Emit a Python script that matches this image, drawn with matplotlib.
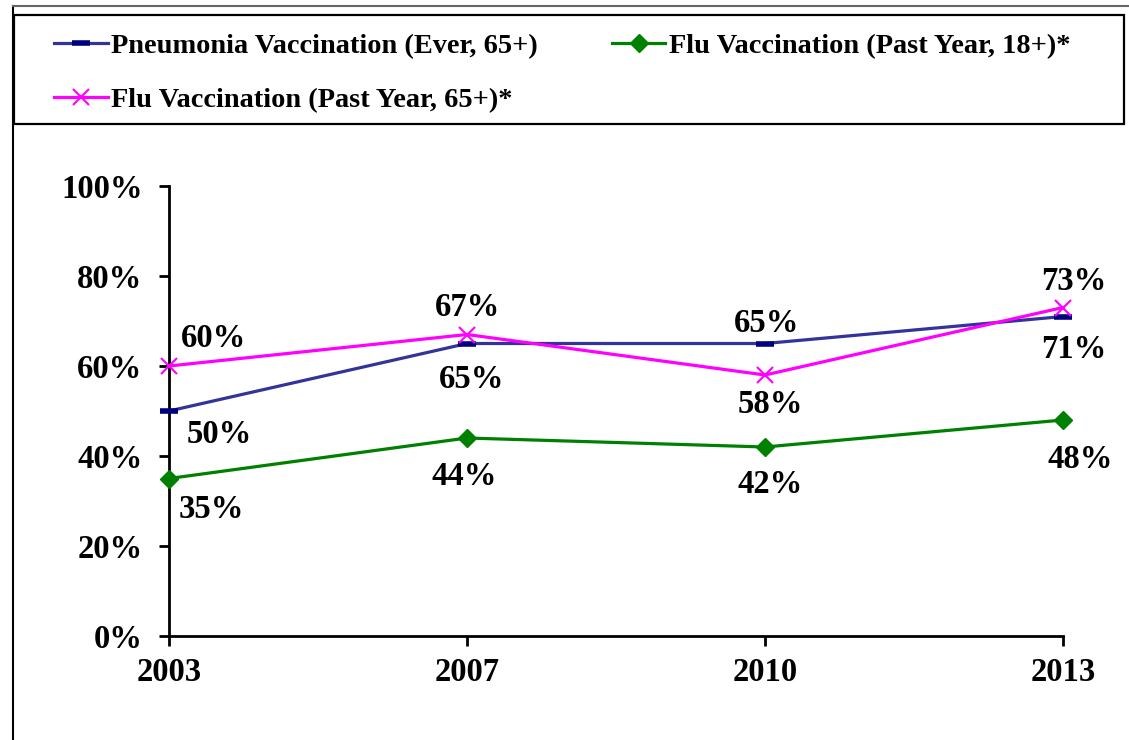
import matplotlib
matplotlib.use("Agg")
import matplotlib.pyplot as plt
from matplotlib.lines import Line2D
from matplotlib.patches import Rectangle

plt.rcParams['font.family'] = ['Liberation Serif', 'DejaVu Serif']
plt.rcParams['font.weight'] = 'bold'

years = ["2003", "2007", "2010", "2013"]
pneumonia = [50, 65, 65, 71]
flu_18 = [35, 44, 42, 48]
flu_65 = [60, 67, 58, 73]
yticks = [0, 20, 40, 60, 80, 100]

names = ["Pneumonia Vaccination (Ever, 65+)",
         "Flu Vaccination (Past Year, 18+)*",
         "Flu Vaccination (Past Year, 65+)*"]

# label offsets (pixels) relative to each point, text baseline
off_pneu = [(50, -32), (5, -45), (2, 11), (11, -41)]
off_f18 = [(42, -39), (-3, -47), (5, -46), (17, -48)]
off_f65 = [(45, 19), (0, 19), (5, -38), (11, 18)]

FS = 23.5
W, H = 1129, 740
fig = plt.figure(figsize=(W / 100, H / 100), dpi=100)
ax = fig.add_axes([169 / W, 1 - 636 / H, (1063 - 169) / W, (636 - 186) / H])

x = list(range(len(years)))
l1, = ax.plot(x, pneumonia, color="#333399", lw=2.3, marker="_", ms=13,
              mew=4, mec="#000080", clip_on=False, zorder=3)
l2, = ax.plot(x, flu_18, color="#008000", lw=2.3, marker="D", ms=9.5,
              mec="#008000", mfc="#008000", clip_on=False, zorder=3)
l3, = ax.plot(x, flu_65, color="#FF00FF", lw=2.3, marker="x", ms=11,
              mew=1.5, clip_on=False, zorder=4)

for vals, offs in [(pneumonia, off_pneu), (flu_18, off_f18), (flu_65, off_f65)]:
    for xi, v, (dx, dy) in zip(x, vals, offs):
        ax.annotate(f"{v}%", (xi, v), xytext=(dx, dy), textcoords="offset pixels",
                    ha="center", va="baseline", fontsize=FS, fontweight="bold")

ax.set_xlim(0, 3)
ax.set_ylim(0, 100)
ax.set_xticks(x)
ax.set_xticklabels(years)
ax.set_yticks(yticks)
ax.set_yticklabels([f"{t}%" for t in yticks])
for s in ["top", "right"]:
    ax.spines[s].set_visible(False)
for s in ["left", "bottom"]:
    ax.spines[s].set_linewidth(2)
ax.tick_params(axis="both", direction="out", length=7, width=2, labelsize=FS)
ax.tick_params(axis="y", pad=12)
ax.tick_params(axis="x", pad=8)
for lab in ax.get_xticklabels() + ax.get_yticklabels():
    lab.set_fontweight("bold")

# outer frame lines
fig.add_artist(Line2D([12.5 / W, 12.5 / W], [0, 1 - 6 / H], transform=fig.transFigure,
                      color="black", lw=1.5))
fig.add_artist(Line2D([12.5 / W, 1], [1 - 6 / H, 1 - 6 / H], transform=fig.transFigure,
                      color="#666666", lw=1.5))
# legend box
fig.add_artist(Rectangle((14 / W, 1 - 124 / H), (1124 - 14) / W, (124 - 15) / H,
                         transform=fig.transFigure, fill=False, ec="black", lw=1.6))

leg = fig.legend([l1, l3, l2], [names[0], names[2], names[1]], ncol=2,
                 loc="upper left", bbox_to_anchor=(54 / W, 1 - 33 / H),
                 frameon=False, prop={"family": "Liberation Serif", "weight": "bold", "size": 20.4},
                 handlelength=1.9, handletextpad=0.12, columnspacing=2.6,
                 labelspacing=1.0, borderpad=0, borderaxespad=0)

fig.savefig("out.png", dpi=100)
